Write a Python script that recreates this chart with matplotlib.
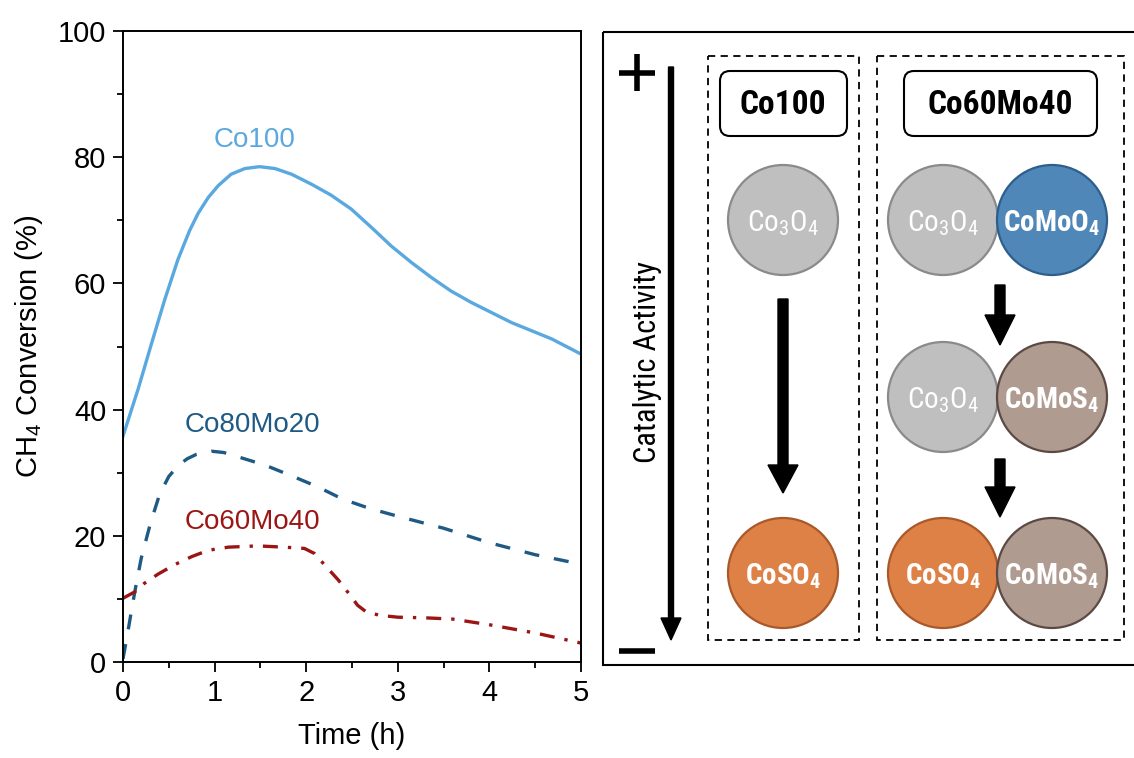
import matplotlib
matplotlib.use("Agg")
import matplotlib.pyplot as plt
import numpy as np
from matplotlib import font_manager
from matplotlib.font_manager import FontProperties
from matplotlib.patches import Rectangle, FancyBboxPatch, Circle, FancyArrow
from matplotlib.lines import Line2D

# ---------------- data ----------------
time_co100 = [0, 0.164, 0.31, 0.455, 0.60, 0.728, 0.82, 0.93, 1.04, 1.18, 1.33, 1.49,
              1.66, 1.84, 2.06, 2.27, 2.49, 2.71, 2.93, 3.15, 3.37, 3.58, 3.80, 4.02,
              4.24, 4.46, 4.68, 5.0]
conv_co100 = [35.8, 43.2, 50.4, 57.4, 63.8, 68.4, 71.1, 73.6, 75.5, 77.3, 78.2, 78.5,
              78.2, 77.3, 75.7, 74.0, 71.8, 68.9, 65.9, 63.3, 60.9, 58.8, 57.0, 55.4,
              53.8, 52.5, 51.2, 48.8]

time_co80 = [0, 0.05, 0.1, 0.15, 0.2, 0.3, 0.4, 0.5, 0.6, 0.7, 0.8, 0.97, 1.1, 1.26, 1.55,
             1.84, 2.12, 2.4, 2.7, 3.0, 3.5, 4.0, 4.5, 5.0]
conv_co80 = [0.5, 4.5, 8.8, 12.8, 16.5, 22.0, 26.6, 29.4, 31.1, 32.2, 32.9, 33.4, 33.2,
             32.5, 31.2, 29.5, 27.8, 25.8, 24.3, 23.1, 21.2, 18.9, 17.0, 15.5]

time_co60 = [0, 0.127, 0.236, 0.38, 0.56, 0.75, 0.93, 1.15, 1.47, 1.76, 1.98, 2.09, 2.2,
             2.35, 2.49, 2.56, 2.65, 2.8, 3.0, 3.3, 3.6, 4.0, 4.5, 5.0]
conv_co60 = [10.1, 11.1, 12.5, 13.9, 15.4, 16.7, 17.7, 18.2, 18.4, 18.2, 18.0, 17.2, 15.4,
             13.0, 10.4, 9.0, 8.0, 7.4, 7.1, 7.0, 6.8, 5.9, 4.6, 3.0]

series_names = ["Co100", "Co80Mo20", "Co60Mo40"]
series_colors = ["#5AA8E0", "#1E5A84", "#9C1515"]
x_ticks = [0, 1, 2, 3, 4, 5]
y_ticks = [0, 20, 40, 60, 80, 100]

# ---------------- fonts ----------------
fm = font_manager.fontManager
names = {f.name for f in fm.ttflist}
base_font = "Liberation Sans" if "Liberation Sans" in names else "DejaVu Sans"
plt.rcParams["font.family"] = [base_font, "DejaVu Sans"]
plt.rcParams["mathtext.default"] = "regular"


def _wnum(w):
    if isinstance(w, (int, float)):
        return w
    return font_manager.weight_dict.get(str(w), 400)


def find_narrow(bold):
    prefs = ["Liberation Sans Narrow", "Arial Narrow", "Roboto Condensed",
             "Open Sans Condensed", "Noto Sans Condensed", "DejaVu Sans"]
    best = None
    for rank, fam in enumerate(prefs):
        for f in fm.ttflist:
            if f.name != fam or f.style != "normal":
                continue
            narrow = ("Narrow" in fam or "Condensed" in fam or
                      str(f.stretch) in ("condensed", "semi-condensed"))
            if not narrow:
                continue
            w = _wnum(f.weight)
            if (w >= 600) != bold:
                continue
            if bold is False and w < 400:
                continue
            if best is None or (rank, abs(w - (700 if bold else 400))) < best[0]:
                best = ((rank, abs(w - (700 if bold else 400))), f.fname)
    return best[1] if best else None


narrow_reg = find_narrow(False)
narrow_bold = find_narrow(True)
have_narrow = narrow_reg is not None and narrow_bold is not None
shrink = 1.0 if have_narrow else 0.84


def nfont(size, bold=False):
    if have_narrow:
        return FontProperties(fname=narrow_bold if bold else narrow_reg, size=size)
    return FontProperties(family=base_font, weight="bold" if bold else "normal",
                          size=size * shrink)


W, H = 1134, 758
fig = plt.figure(figsize=(W / 100, H / 100), dpi=100)

# ---------------- left chart ----------------
ax = fig.add_axes([123 / W, 1 - 662 / H, (581 - 123) / W, (662 - 31) / H])
ax.plot(time_co100, conv_co100, color=series_colors[0], lw=2.4)
ax.plot(time_co80, conv_co80, color=series_colors[1], lw=2.4, linestyle=(0, (4.5, 4.5)))
ax.plot(time_co60, conv_co60, color=series_colors[2], lw=2.4, linestyle=(0, (4.5, 3, 1, 3)))
ax.set_xlim(0, 5)
ax.set_ylim(0, 100)
ax.set_xticks(x_ticks)
ax.set_yticks(y_ticks)
ax.set_xticks(np.arange(0.5, 5, 1.0), minor=True)
ax.set_yticks(np.arange(10, 100, 20), minor=True)
ax.tick_params(which="major", direction="out", length=7, width=1.3, labelsize=21, pad=5)
ax.tick_params(which="minor", direction="out", length=4, width=1.3)
for s in ax.spines.values():
    s.set_linewidth(1.4)
ax.set_xlabel("Time (h)", fontsize=21, labelpad=11)
ax.set_ylabel("CH$_4$ Conversion (%)", fontsize=21, labelpad=9)

label_pos = [(1.44, 82.7), (1.41, 37.6), (1.41, 22.2)]
for name, col, (lx, ly) in zip(series_names, series_colors, label_pos):
    ax.text(lx, ly, name, color=col, fontsize=20, ha="center", va="center")

# ---------------- right diagram ----------------
dx = fig.add_axes([0, 0, 1, 1])
dx.set_xlim(0, W)
dx.set_ylim(H, 0)
dx.axis("off")

# outer frame (right side runs off the image)
dx.add_patch(Rectangle((603, 32), 560, 633, fill=False, lw=1.5, ec="black", clip_on=False))

# plus / minus
dx.add_line(Line2D([619, 655], [73, 73], lw=4.0, color="black", solid_capstyle="butt"))
dx.add_line(Line2D([637, 637], [54, 91], lw=4.0, color="black", solid_capstyle="butt"))
dx.add_line(Line2D([619, 655], [651, 651], lw=4.0, color="black", solid_capstyle="butt"))

# activity arrow
dx.add_patch(FancyArrow(671, 67, 0, 573, width=5, head_width=20, head_length=22,
                        length_includes_head=True, color="black"))
dx.text(648, 362, "Catalytic Activity", rotation=90, ha="center", va="center",
        fontproperties=nfont(22))

# dashed group boxes
dash = (0, (4, 3))
dx.add_patch(Rectangle((708, 56), 151, 584, fill=False, lw=1.3, ls=dash, ec="black"))
dx.add_patch(Rectangle((877, 56), 247, 584, fill=False, lw=1.3, ls=dash, ec="black"))

# title boxes
titles = [("Co100", 720, 127, 783), ("Co60Mo40", 904, 193, 1000)]
for t, x0, w, cx in titles:
    dx.add_patch(FancyBboxPatch((x0, 71), w, 65, boxstyle="round,pad=0,rounding_size=10",
                                fill=False, lw=1.5, ec="black"))
    dx.text(cx, 105, t, ha="center", va="center", fontproperties=nfont(24, bold=True))

# circles
R = 55
styles = {
    "Co3O4": ("#BFBFBF", "#8A8A8A", "Co$_3$O$_4$", False),
    "CoMoO4": ("#5087B9", "#2E5F8C", "CoMoO$_4$", True),
    "CoMoS4": ("#B09B91", "#5B4A43", "CoMoS$_4$", True),
    "CoSO4": ("#DE8146", "#A9582A", "CoSO$_4$", True),
}
circles = [
    (783, 220, "Co3O4"), (783, 573, "CoSO4"),
    (943, 220, "Co3O4"), (1052, 220, "CoMoO4"),
    (943, 397, "Co3O4"), (1052, 397, "CoMoS4"),
    (943, 573, "CoSO4"), (1052, 573, "CoMoS4"),
]
for cx, cy, key in circles:
    fc, ec, lab, bold = styles[key]
    dx.add_patch(Circle((cx, cy), R, fc=fc, ec=ec, lw=1.6))
    dx.text(cx, cy + 3, lab, ha="center", va="center", color="white",
            fontproperties=nfont(21, bold=bold))

# reaction arrows
for x, y0, y1, hl in [(783, 299, 493, 28), (1000, 285, 345, 30), (1000, 459, 517, 30)]:
    dx.add_patch(FancyArrow(x, y0, 0, y1 - y0, width=10, head_width=30, head_length=hl,
                            length_includes_head=True, color="black"))

fig.savefig("out.png", dpi=100)
